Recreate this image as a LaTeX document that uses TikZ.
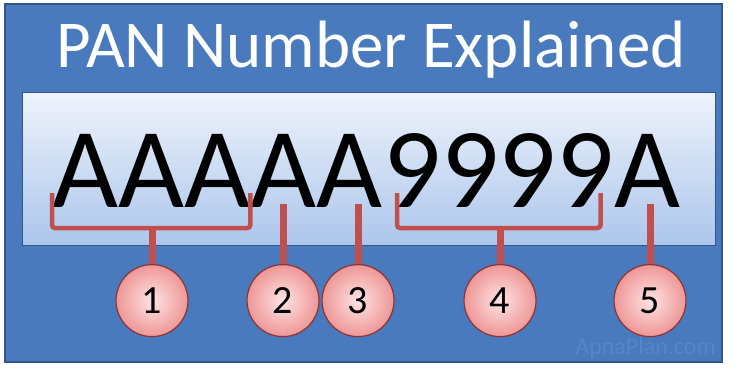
\documentclass[tikz,border=0pt]{standalone}
\usepackage{fontspec}
\setmainfont{Carlito}
\usepackage{xcolor}
\definecolor{panblue}{RGB}{74,122,190}
\definecolor{pandarkblue}{RGB}{50,86,140}
\definecolor{panpale}{RGB}{238,243,251}
\definecolor{panlight}{RGB}{172,198,236}
\definecolor{panred}{RGB}{192,80,77}
\definecolor{pandarkred}{RGB}{140,52,52}
\definecolor{panpink}{RGB}{255,228,228}
\definecolor{panrose}{RGB}{238,150,150}
\definecolor{panmark}{RGB}{86,134,202}
\usetikzlibrary{positioning,calc}

\begin{document}
\begin{tikzpicture}[x=1pt,y=1pt,
  panel/.style={draw=pandarkblue,line width=1.5pt,fill=panblue},
  plate/.style={draw=pandarkblue,line width=1pt,top color=panpale,bottom color=panlight},
  code/.style={inner sep=0pt,anchor=base west,font=\fontsize{114}{114}\selectfont},
  brace/.style={draw=panred,line width=4.5pt,rounded corners=3pt},
  tick/.style={draw=panred,line width=7pt},
  badge/.style={circle,anchor=north,draw=pandarkred,line width=1.2pt,inner color=panpink,outer color=panrose,minimum size=72pt,inner sep=0pt,font=\fontsize{40}{40}\selectfont}
]
\fill[white] (0,0) rectangle (735,370);
\useasboundingbox (0,0) rectangle (735,370);
\path[panel] (5,8) rectangle (722,366);
\path[plate] (22,125) rectangle (715,277);
\node[anchor=base,inner sep=0pt,text=white,font=\fontsize{67}{67}\selectfont] (title) at (371,302) {PAN Number Explained};
\node[anchor=base east,inner sep=0pt,text=panmark,font=\fontsize{24}{24}\selectfont] (mark) at (716,16) {ApnaPlan.com};

\node[code] (series) at (52,163) {AAA};
\node[code] (holder) at (series.base east) {A};
\node[code] (surname) at (holder.base east) {A};
\node[code] (digits) at (surname.base east) {9999};
\node[code] (check) at (digits.base east) {A};

\coordinate (t1) at (152,106);
\coordinate (t2) at (283,106);
\coordinate (t3) at (358,106);
\coordinate (t4) at (500,106);
\coordinate (t5) at (650,106);

\draw[brace] ([yshift=14pt]series.base west) -- ([yshift=-21pt]series.base west) -- ([yshift=-21pt]series.base east) -- ([yshift=14pt]series.base east);
\draw[brace] ([xshift=14pt,yshift=14pt]digits.base west) -- ([xshift=14pt,yshift=-21pt]digits.base west) -- ([xshift=-14pt,yshift=-21pt]digits.base east) -- ([xshift=-14pt,yshift=14pt]digits.base east);
\draw[tick] ([yshift=-21pt]t1 |- series.base) -- ([yshift=-4pt]t1);
\draw[tick] ([yshift=3pt]t2 |- holder.base) -- ([yshift=-4pt]t2);
\draw[tick] ([yshift=3pt]t3 |- surname.base) -- ([yshift=-4pt]t3);
\draw[tick] ([yshift=-21pt]t4 |- digits.base) -- ([yshift=-4pt]t4);
\draw[tick] ([yshift=3pt]t5 |- check.base) -- ([yshift=-4pt]t5);

\node[badge] (c1) at (t1) {1};
\node[badge] (c2) at (t2) {2};
\node[badge] (c3) at (t3) {3};
\node[badge] (c4) at (t4) {4};
\node[badge] (c5) at (t5) {5};
\end{tikzpicture}
\end{document}
